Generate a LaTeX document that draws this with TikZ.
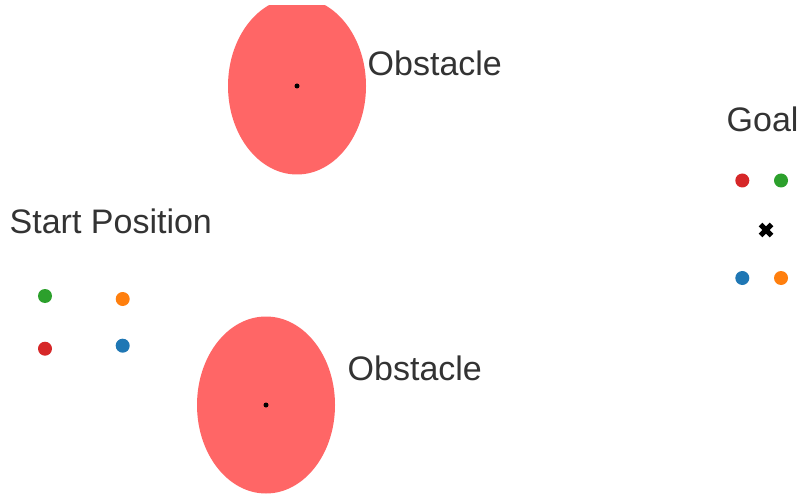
\documentclass[tikz,border=0pt]{standalone}
\usepackage{fontspec}
\setmainfont{Liberation Sans}
\definecolor{obst}{HTML}{FF6666}
\definecolor{txt}{HTML}{333333}
\definecolor{cred}{HTML}{D62728}
\definecolor{cgreen}{HTML}{2CA02C}
\definecolor{corange}{HTML}{FF7F0E}
\definecolor{cblue}{HTML}{1F77B4}
\tikzset{
  lbl/.style={anchor=base west, inner sep=0pt, text=txt, font=\fontsize{34pt}{40pt}\selectfont},
  agent/.style={circle, inner sep=0pt, minimum size=14pt, fill=#1, draw=none},
  ctr/.style={circle, inner sep=0pt, minimum size=5pt, fill=black},
  obstacle/.style={ellipse, fill=obst, draw=none, inner sep=0pt, minimum width=138pt, minimum height=177pt}
}
\usetikzlibrary{shapes.geometric}
\begin{document}
\begin{tikzpicture}[x=1pt,y=-1pt]
\useasboundingbox (0,0) rectangle (799,494);
\fill[white] (0,0) rectangle (799,494);
\begin{scope}
\clip (0,6) rectangle (799,494);
\node[obstacle] (o1) at (297,86) {};
\node[obstacle] (o2) at (266,405) {};
\end{scope}
\node[ctr] (c1) at (297,86) {};
\node[ctr] (c2) at (266,405) {};
\node[lbl] (t1) at (367.5,75.5) {Obstacle};
\node[lbl] (t2) at (347.5,380.5) {Obstacle};
\node[lbl] (tg) at (726.5,132) {Goal};
\node[lbl] (ts) at (9.5,233.5) {Start Position};
% start agents
\node[agent=cgreen] (sg) at (45,296) {};
\node[agent=corange] (so) at (122.7,299) {};
\node[agent=cred] (sr) at (45,348.7) {};
\node[agent=cblue] (sb) at (122.7,345.7) {};
% goal agents
\node[agent=cred] (gr) at (742.3,180.5) {};
\node[agent=cgreen] (gg) at (781,180.5) {};
\node[agent=cblue] (gb) at (742.3,278) {};
\node[agent=corange] (go) at (781,278) {};
% goal marker
\coordinate (gx) at (766,230);
\draw[line width=5pt, line cap=butt] ([shift={(-5.5,-5.5)}]gx) -- ([shift={(5.5,5.5)}]gx);
\draw[line width=5pt, line cap=butt] ([shift={(-5.5,5.5)}]gx) -- ([shift={(5.5,-5.5)}]gx);
\end{tikzpicture}
\end{document}
